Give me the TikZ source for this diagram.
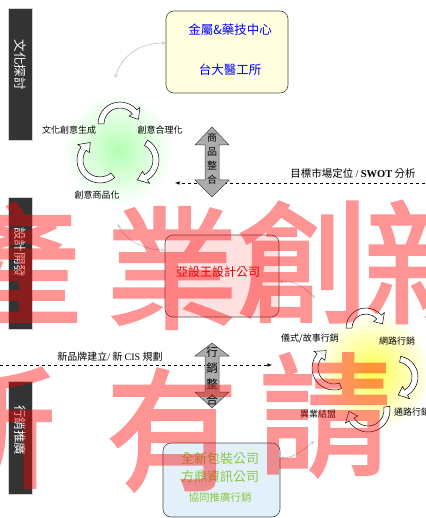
\documentclass[tikz,border=0pt]{standalone}
\usepackage{fontspec}
\setmainfont{Noto Sans CJK TC}
\newfontfamily\latinfont{Liberation Serif}
\newfontfamily\markfont[FakeBold=2.2]{Noto Sans CJK TC}
\usetikzlibrary{positioning}

\definecolor{paleblue}{RGB}{226,240,250}
\definecolor{leafgreen}{RGB}{140,198,63}
\definecolor{paleyellow}{RGB}{255,255,224}

\tikzset{
  stagebar/.style={fill=black!80, draw=gray!35},
  stagetext/.style={text=white, rotate=-90, inner sep=0, font=\fontsize{12.5}{13}\selectfont},
  orgbox/.style={draw=black!70, rounded corners=8pt, line width=0.6pt},
  glowarrow/.style={fill=white, draw=black, line width=0.5pt},
  cyclabel/.style={inner sep=0, font=\fontsize{9}{10}\selectfont},
  link/.style={<->, >=stealth, draw=gray!45, line width=0.7pt},
  dashline/.style={dashed, ->, >=latex, line width=0.6pt},
  bigarrow/.style={fill=gray!65, draw=gray!50!black, line width=0.5pt},
  watermark/.style={inner sep=0, text=red, font=\markfont\fontsize{132}{132}\selectfont}
}

% bent block arrow round a centre: cx, cy, radius, start angle, end angle
\newcommand{\cyclearrow}[5]{%
  \begin{scope}[shift={(#1,#2)}]
    \draw[glowarrow] ({#4}:{#3+3}) arc[start angle={#4}, end angle={#5}, radius={#3+3}]
      -- ({#5}:{#3+7}) -- ({#5+26}:{#3}) -- ({#5}:{#3-7}) -- ({#5}:{#3-3})
      arc[start angle={#5}, end angle={#4}, radius={#3-3}] -- cycle;
  \end{scope}}

\begin{document}
\begin{tikzpicture}[x=1pt, y=-1pt]
    \useasboundingbox (0,0) rectangle (425,518);

    % glows behind the two cycles
    \shade[inner color=green!30, outer color=white] (118,150) circle (55);
    \shade[inner color=yellow!70, outer color=white] (372,372) circle (60);

    % stage bars
    \filldraw[stagebar] (8,8) rectangle (32,140);
    \filldraw[stagebar] (8,197) rectangle (32,329);
    \filldraw[stagebar] (8,381) rectangle (32,494);
    \node[stagetext] (stage1) at (20,65) {文化探討};
    \node[stagetext] (stage2) at (20,252) {設計開發};
    \node[stagetext] (stage3) at (20,430) {行銷推廣};

    % dashed lines (behind the grey arrows)
    \coordinate (swot-start) at (425,183);
    \coordinate (swot-end) at (175,183);
    \draw[dashline] (swot-start) -- (swot-end);
    \node[font=\fontsize{10.5}{12}\selectfont, inner sep=0] (swot) at (353,173)
        {目標市場定位 {\latinfont /} {\latinfont\bfseries SWOT} 分析};
    \coordinate (cis-start) at (0,365);
    \coordinate (cis-end) at (272,365);
    \draw[dashline] (cis-start) -- (cis-end);
    \node[font=\fontsize{10}{12}\selectfont, inner sep=0] (cis) at (110,357)
        {新品牌建立{\latinfont /} 新 {\latinfont CIS} 規劃};

    % partner boxes
    \node[orgbox, fill=paleyellow, minimum width=122pt, minimum height=82pt] (topbox) at (227,52) {};
    \node[text=blue, font=\fontsize{12.5}{14}\selectfont] (topname1) at (230,30) {金屬\&藥技中心};
    \node[text=blue, font=\fontsize{12.5}{14}\selectfont] (topname2) at (230,70) {台大醫工所};
    \node[orgbox, fill=red!12, minimum width=114pt, minimum height=82pt] (redbox) at (222,276) {};
    \node[text=red!90!black, font=\fontsize{12}{14}\selectfont] (redname) at (218,272) {亞設王設計公司};
    \node[orgbox, fill=paleblue, minimum width=117pt, minimum height=74pt] (bottombox) at (221.5,480) {};
    \node[text=leafgreen, font=\fontsize{13}{15}\selectfont] (botname1) at (220,459) {全新包裝公司};
    \node[text=leafgreen, font=\fontsize{13}{15}\selectfont] (botname2) at (220,477) {方鼎資訊公司};
    \node[text=leafgreen, font=\fontsize{10.5}{12}\selectfont] (botname3) at (220,497) {協同推廣行銷};

    % grey double arrows
    \filldraw[bigarrow] (212,127) -- (229,145) -- (219,145) -- (219,180) -- (229,180) -- (212,197)
        -- (195,180) -- (205,180) -- (205,145) -- (195,145) -- cycle;
    \node[align=center, inner sep=0, font=\fontsize{10}{14}\selectfont] (merge1) at (212,159) {商\\品\\整\\合};
    \filldraw[bigarrow] (212,343) -- (229,356) -- (219,356) -- (219,392) -- (229,392) -- (212,408)
        -- (195,392) -- (205,392) -- (205,356) -- (195,356) -- cycle;
    \node[align=center, inner sep=0, font=\fontsize{11.5}{16}\selectfont] (merge2) at (212,376) {行\\銷\\整\\合};

    % green cycle
    \cyclearrow{120}{124}{19}{180}{320}
    \cyclearrow{136}{160}{20}{-60}{60}
    \cyclearrow{100}{160}{20}{50}{215}
    \node[cyclabel] (idea1) at (69,130) {文化創意生成};
    \node[cyclabel] (idea2) at (160,130) {創意合理化};
    \node[cyclabel] (idea3) at (97,195) {創意商品化};

    % yellow cycle
    \cyclearrow{366}{328}{17}{180}{320}
    \cyclearrow{397}{377}{18}{-80}{60}
    \cyclearrow{368}{410}{19}{-10}{150}
    \cyclearrow{334}{368}{19}{70}{220}
    \node[cyclabel] (mkt1) at (310,339) {儀式/故事行銷};
    \node[cyclabel] (mkt2) at (397,341) {網路行銷};
    \node[cyclabel] (mkt3) at (318,414) {異業結盟};
    \node[cyclabel, anchor=west] (mkt4) at (394,412) {通路行銷};

    % links between boxes and cycles
    \coordinate (g-in) at (115,78);
    \coordinate (g-out) at (118,224);
    \coordinate (y-in) at (315,298);
    \coordinate (y-out) at (314,441);
    \draw[link] (g-in) .. controls (122,55) and (140,43) .. ([yshift=9pt]topbox.west);
    \draw[link] (g-out) .. controls (125,240) and (145,250) .. ([yshift=26pt]redbox.west);
    \draw[link] ([yshift=-6pt]redbox.east) .. controls (295,280) and (305,288) .. (y-in);
    \draw[link] ([yshift=22pt]bottombox.east) .. controls (295,458) and (305,448) .. (y-out);

    % watermark
    \begin{scope}[transparency group, opacity=0.42]
        \node[watermark] (wm1) at (15,265) {產};
        \node[watermark] (wm2) at (172,268) {業};
        \node[watermark] (wm3) at (303,262) {創};
        \node[watermark] (wm4) at (430,262) {新};
        \node[watermark] (wm5) at (-10,428) {所};
        \node[watermark] (wm6) at (172,430) {有};
        \node[watermark] (wm7) at (325,415) {請};
    \end{scope}
\end{tikzpicture}
\end{document}
